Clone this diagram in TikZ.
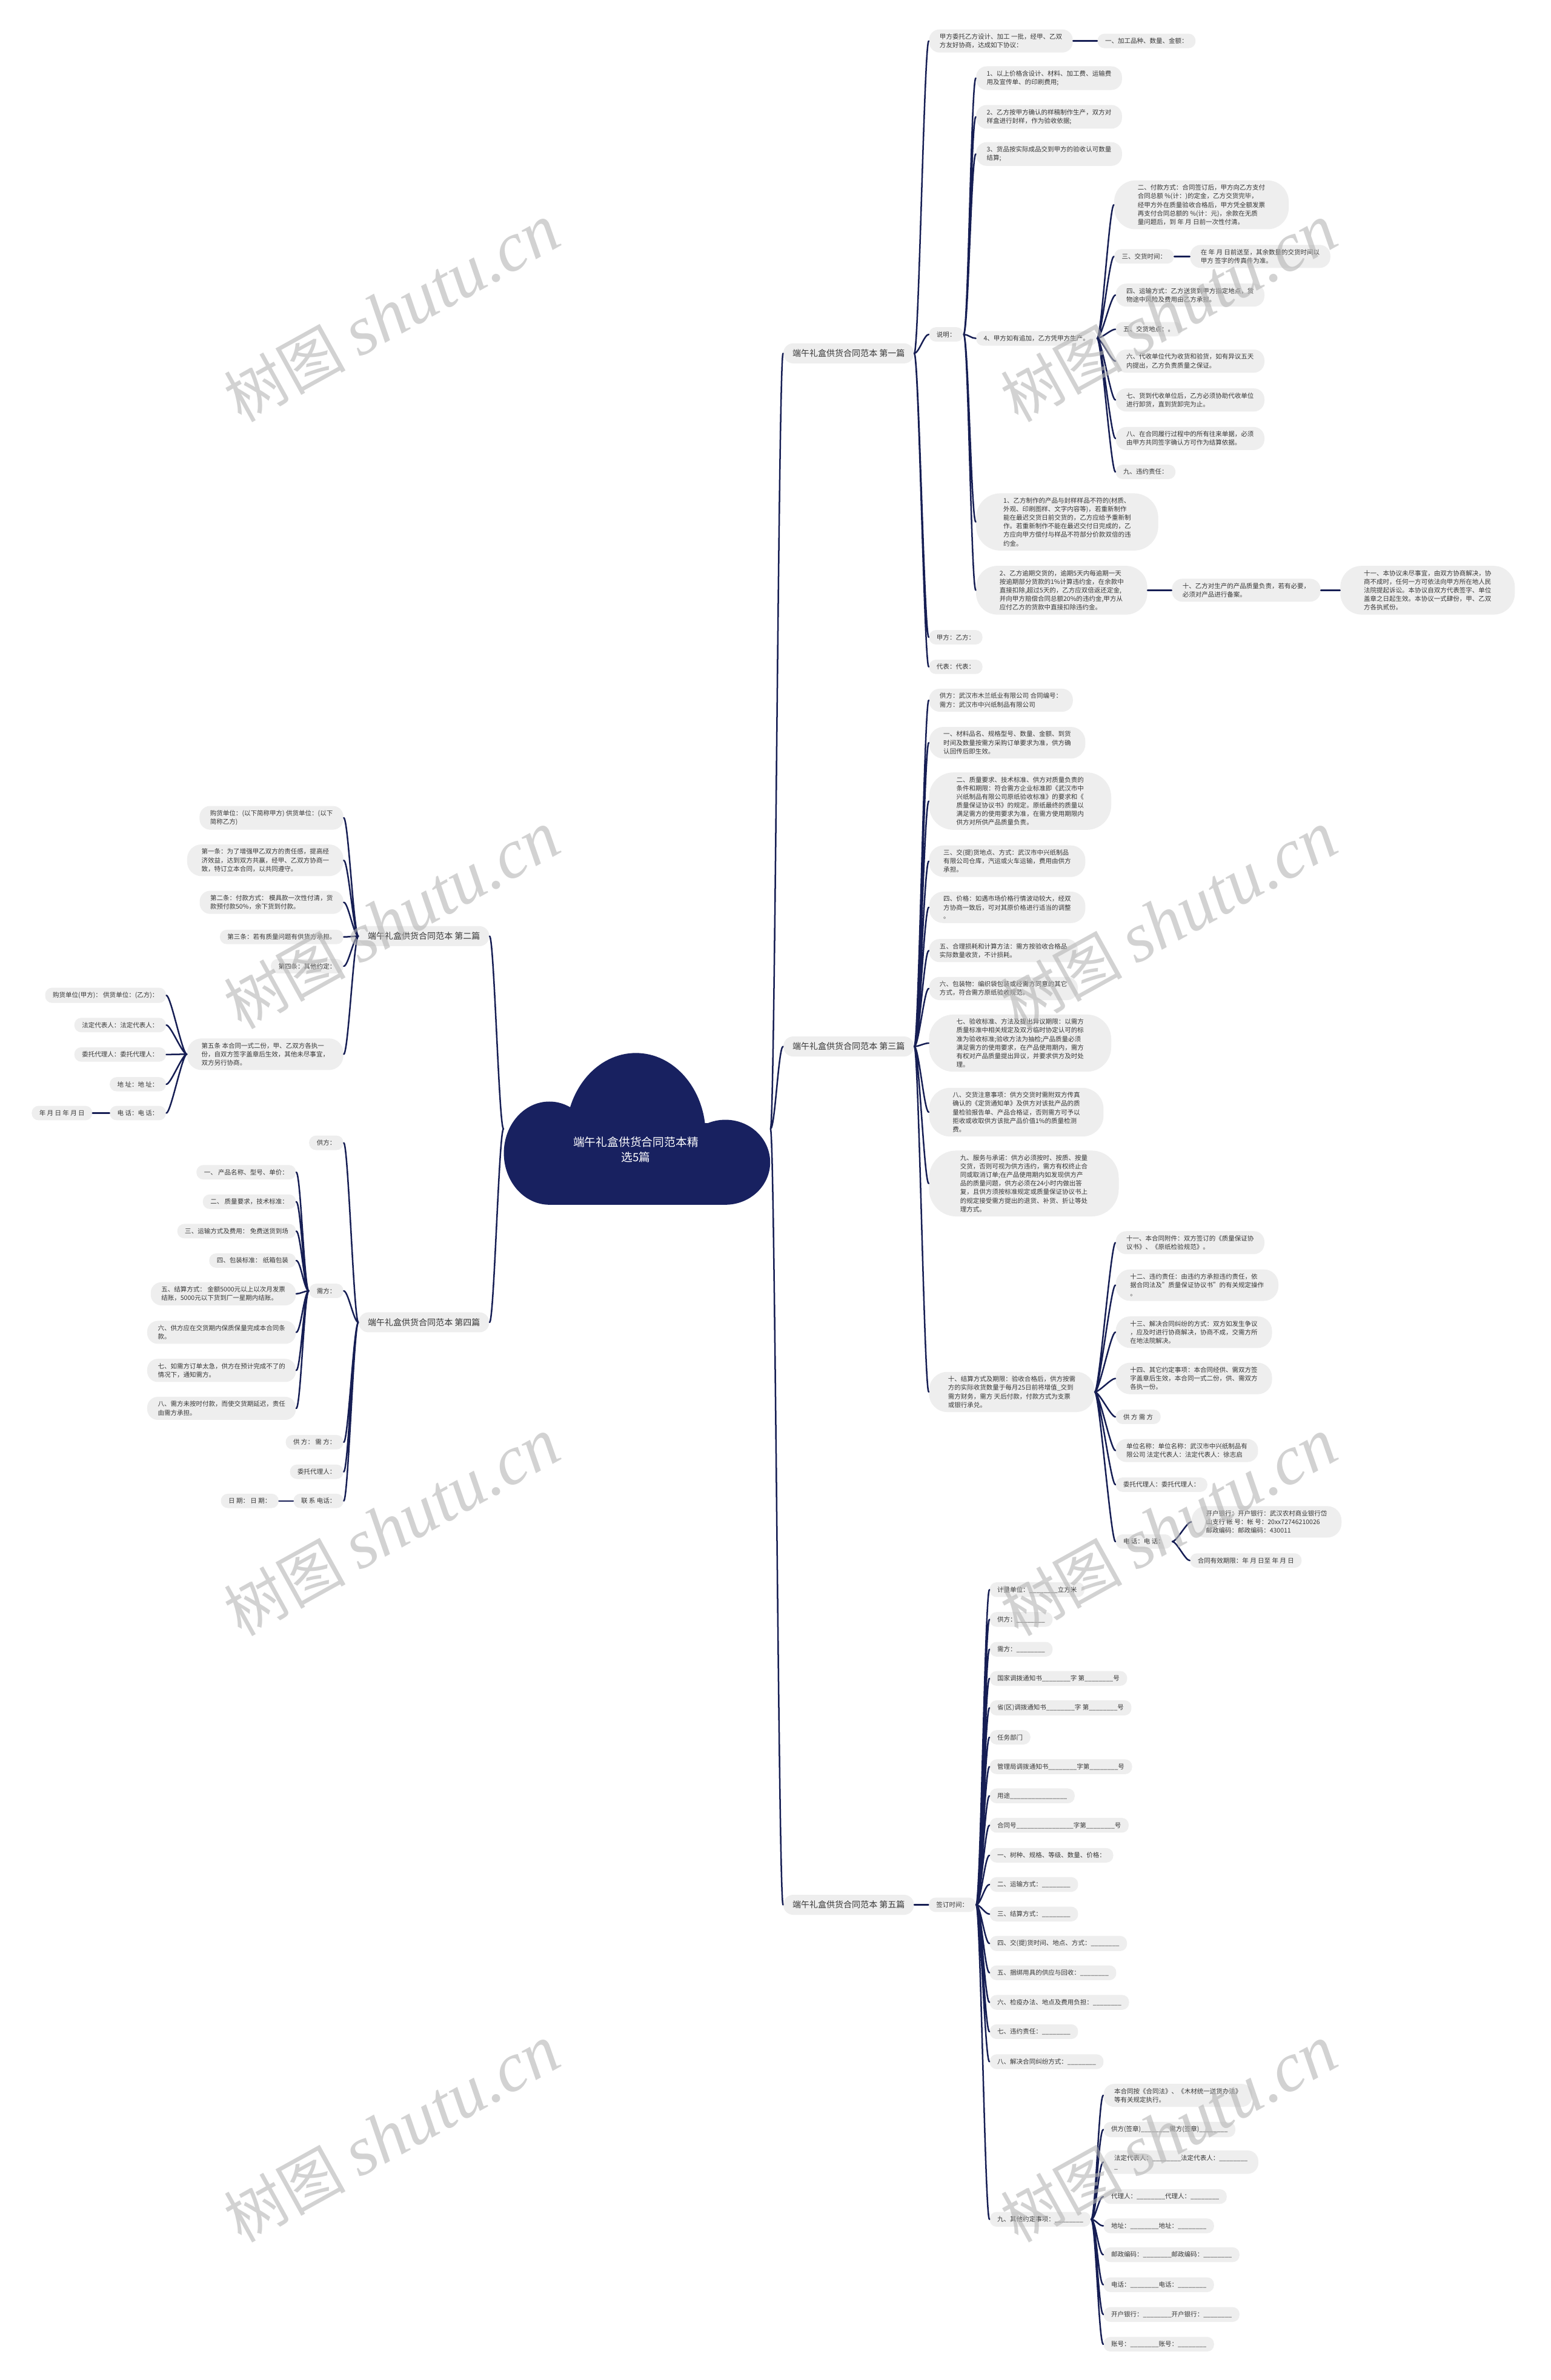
\documentclass[tikz,border=0pt]{standalone}
\usepackage{fontspec}
\setmainfont{Noto Sans CJK SC}
\newfontfamily\wmlatin{Liberation Serif}
\usepackage{tikz}
\definecolor{mapnavy}{RGB}{24,33,96}
\definecolor{linknavy}{RGB}{22,30,84}
\definecolor{boxgray}{RGB}{238,238,238}
\definecolor{textgray}{RGB}{55,55,55}
\definecolor{wmgray}{RGB}{180,180,180}
\newcommand\blnk{\_\_\_\_\_\_\_\_}
\tikzset{
  topic/.style={fill=boxgray,text=textgray,align=left,rounded corners=4.5pt,inner xsep=5pt,inner ysep=2.8pt,font=\fontsize{4.2}{5.65}\selectfont},
  branch/.style={topic,font=\fontsize{5.6}{7}\selectfont,inner xsep=6pt,inner ysep=4pt,rounded corners=6.5pt},
  ln2/.style={inner xsep=7pt,rounded corners=7pt},
  ln3/.style={inner xsep=9.5pt,rounded corners=9.5pt},
  ln4/.style={inner xsep=12.5pt,rounded corners=12pt},
  ln5/.style={inner xsep=15.5pt,rounded corners=14pt},
  ln6/.style={inner xsep=18pt,rounded corners=16pt},
  ln7/.style={inner xsep=20.5pt,rounded corners=18pt},
  rlink/.style={draw=linknavy,line width=1pt,line cap=round,out=0,in=180,out distance=3pt,in distance=3pt},
  llink/.style={draw=linknavy,line width=1pt,line cap=round,out=180,in=0,out distance=3pt,in distance=3pt},
  wmark/.style={text=wmgray,opacity=0.6,rotate=29,inner sep=0pt,font=\fontsize{40}{40}\selectfont}
}

\begin{document}
\begin{tikzpicture}[x=1pt,y=-1pt]
  \useasboundingbox (0,0) rectangle (1022,1568.6);
  \fill[white] (0,0) rectangle (1022,1568.6);

  \begin{scope}
    \clip (300,690) rectangle (520,794);
    \fill[mapnavy] (362,760) ellipse [x radius=30,y radius=34];
    \fill[mapnavy] (419,748) ellipse [x radius=46,y radius=54];
    \fill[mapnavy] (478,766) ellipse [x radius=29.5,y radius=28];
    \fill[mapnavy] (362,740) rectangle (478,794);
  \end{scope}
  \node[minimum width=175.5pt,minimum height=100pt,inner sep=0pt] (root) at (419.75,744) {};
  \node[text=white,align=center,font=\fontsize{7.5}{10}\selectfont] (title) at (419,757.5) {端午礼盒供货合同范本精\\选5篇};

  \node[branch,anchor=west] (p1) at (516,232.9) {端午礼盒供货合同范本 第一篇};
  \node[topic,ln2,anchor=west] (intro) at (612,27) {甲方委托乙方设计、加工 一批，经甲、乙双\\方友好协商，达成如下协议：};
  \node[topic,anchor=west] (kinds) at (723,27) {一、加工品种、数量、金额：};
  \node[topic,anchor=west] (note) at (612,220.4) {说明：};
  \node[topic,ln2,anchor=west] (price) at (643,51.5) {1、以上价格含设计、材料、加工费、运输费\\用及宣传单、的印刷费用;};
  \node[topic,ln2,anchor=west] (sample) at (643,77) {2、乙方按甲方确认的样稿制作生产，双方对\\样盒进行封样，作为验收依据;};
  \node[topic,ln2,anchor=west] (settle) at (643,101.5) {3、货品按实际成品交到甲方的验收认可数量\\结算;};
  \node[topic,anchor=west] (extra) at (643,223) {4、甲方如有追加，乙方凭甲方生产。};
  \node[topic,ln5,anchor=west] (pay) at (734,135) {二、付款方式：合同签订后，甲方向乙方支付\\合同总额 \%(计：)的定金，乙方交货完毕，\\经甲方外在质量验收合格后，甲方凭全额发票\\再支付合同总额的 \%(计：元)，余款在无质\\量问题后，到 年 月 日前一次性付清。};
  \node[topic,anchor=west] (dtime) at (734,169) {三、交货时间：};
  \node[topic,ln2,anchor=west] (dtimeq) at (784,169) {在 年 月 日前送至，其余数量的交货时间以\\甲方 签字的传真件为准。};
  \node[topic,ln2,anchor=west] (trans) at (735,194.5) {四、运输方式：乙方送货到甲方指定地点，货\\物途中风险及费用由乙方承担。};
  \node[topic,anchor=west] (dplace) at (735,217) {五、交货地点：。};
  \node[topic,ln2,anchor=west] (agent) at (735,238) {六、代收单位代为收货和验货，如有异议五天\\内提出，乙方负责质量之保证。};
  \node[topic,ln2,anchor=west] (unload) at (735,263.6) {七、货到代收单位后，乙方必须协助代收单位\\进行卸货，直到货卸完为止。};
  \node[topic,ln2,anchor=west] (bills) at (735,289) {八、在合同履行过程中的所有往来单据，必须\\由甲方共同签字确认方可作为结算依据。};
  \node[topic,anchor=west] (breach) at (735,311) {九、违约责任：};
  \node[topic,ln6,anchor=west] (mism) at (643,344) {1、乙方制作的产品与封样样品不符的(材质、\\外观、印刷图样、文字内容等)，若重新制作\\能在最迟交货日前交货的，乙方应给予重新制\\作。若重新制作不能在最迟交付日完成的，乙\\方应向甲方偿付与样品不符部分价款双倍的违\\约金。};
  \node[topic,ln5,anchor=west] (late) at (643,389) {2、乙方逾期交货的，逾期5天内每逾期一天\\按逾期部分货款的1\%计算违约金，在余款中\\直接扣除,超过5天的，乙方应双倍返还定金,\\并向甲方赔偿合同总额20\%的违约金,甲方从\\应付乙方的货款中直接扣除违约金。};
  \node[topic,ln2,anchor=west] (qual) at (772,389) {十、乙方对生产的产品质量负责，若有必要，\\必须对产品进行备案。};
  \node[topic,ln5,anchor=west] (misc) at (883,389) {十一、本协议未尽事宜，由双方协商解决，协\\商不成时，任何一方可依法向甲方所在地人民\\法院提起诉讼。本协议自双方代表签字、单位\\盖章之日起生效。本协议一式肆份，甲、乙双\\方各执贰份。};
  \node[topic,anchor=west] (sigA) at (612,420) {甲方：乙方：};
  \node[topic,anchor=west] (reps) at (612,439.5) {代表：代表：};

  \node[branch,anchor=west] (p3) at (516,689.7) {端午礼盒供货合同范本 第三篇};
  \node[topic,ln2,anchor=west] (parties3) at (612,461.5) {供方：武汉市木兰纸业有限公司 合同编号：\\需方：武汉市中兴纸制品有限公司};
  \node[topic,ln3,anchor=west] (mat3) at (612,489.5) {一、材料品名、规格型号、数量、金额、到货\\时间及数量按需方采购订单要求为准，供方确\\认回传后即生效。};
  \node[topic,ln6,anchor=west] (std3) at (612,528) {二、质量要求、技术标准、供方对质量负责的\\条件和期限：符合需方企业标准即《武汉市中\\兴纸制品有限公司原纸验收标准》的要求和《\\质量保证协议书》的规定。原纸最终的质量以\\满足需方的使用要求为准，在需方使用期限内\\供方对所供产品质量负责。};
  \node[topic,ln3,anchor=west] (place3) at (612,567.6) {三、交(提)货地点、方式：武汉市中兴纸制品\\有限公司仓库，汽运或火车运输，费用由供方\\承担。};
  \node[topic,ln3,anchor=west] (price3) at (612,598) {四、价格：如遇市场价格行情波动较大，经双\\方协商一致后，可对其原价格进行适当的调整\\。};
  \node[topic,ln2,anchor=west] (loss3) at (612,626.5) {五、合理损耗和计算方法：需方按验收合格品\\实际数量收货，不计损耗。};
  \node[topic,ln2,anchor=west] (pack3) at (612,651.5) {六、包装物：编织袋包装或经需方同意的其它\\方式，符合需方原纸验收规范。};
  \node[topic,ln6,anchor=west] (check3) at (612,687.5) {七、验收标准、方法及提出异议期限：以需方\\质量标准中相关规定及双方临时协定认可的标\\准为验收标准;验收方法为抽检;产品质量必须\\满足需方的使用要求，在产品使用期内，需方\\有权对产品质量提出异议，并要求供方及时处\\理。};
  \node[topic,ln5,anchor=west] (care3) at (612,733) {八、交货注意事项：供方交货时需附双方传真\\确认的《定货通知单》及供方对该批产品的质\\量检验报告单、产品合格证，否则需方可予以\\拒收或收取供方该批产品价值1\%的质量检测\\费。};
  \node[topic,ln7,anchor=west] (serv3) at (612,780) {九、服务与承诺：供方必须按时、按质、按量\\交货，否则可视为供方违约，需方有权终止合\\同或取消订单;在产品使用期内如发现供方产\\品的质量问题，供方必须在24小时内做出答\\复，且供方须按标准规定或质量保证协议书上\\的规定接受需方提出的退货、补货、折让等处\\理方式。};
  \node[topic,ln4,anchor=west] (bal3) at (612,917.4) {十、结算方式及期限：验收合格后，供方按需\\方的实际收货数量于每月25日前将增值\_交到\\需方财务，需方 天后付款，付款方式为支票\\或银行承兑。};
  \node[topic,ln2,anchor=west] (att3) at (735,819) {十一、本合同附件：双方签订的《质量保证协\\议书》、《原纸检验规范》。};
  \node[topic,ln3,anchor=west] (viol3) at (735,847) {十二、违约责任：由违约方承担违约责任，依\\据合同法及"质量保证协议书"的有关规定操作\\。};
  \node[topic,ln3,anchor=west] (disp3) at (735,878) {十三、解决合同纠纷的方式：双方如发生争议\\，应及时进行协商解决，协商不成，交需方所\\在地法院解决。};
  \node[topic,ln3,anchor=west] (other3) at (735,908.5) {十四、其它约定事项：本合同经供、需双方签\\字盖章后生效，本合同一式二份，供、需双方\\各执一份。};
  \node[topic,anchor=west] (sign3) at (735,933.8) {供 方 需 方};
  \node[topic,ln2,anchor=west] (unit3) at (735,956) {单位名称：单位名称：武汉市中兴纸制品有\\限公司 法定代表人：法定代表人：徐志启};
  \node[topic,anchor=west] (proxy3) at (735,978.5) {委托代理人：委托代理人：};
  \node[topic,anchor=west] (tel3) at (735,1016) {电 话：电 话：};
  \node[topic,ln3,anchor=west] (bank3) at (785,1003) {开户银行：开户银行：武汉农村商业银行岱\\山支行 帐 号：帐 号：20xx72746210026\\邮政编码：邮政编码：430011};
  \node[topic,anchor=west] (valid3) at (784,1028.5) {合同有效期限：年 月 日至 年 月 日};

  \node[branch,anchor=west] (p5) at (516,1255.4) {端午礼盒供货合同范本 第五篇};
  \node[topic,anchor=west] (signt) at (611.8,1255.4) {签订时间：};
  \node[topic,anchor=west] (w1) at (652,1047.7) {计量单位：\blnk 立方米};
  \node[topic,anchor=west] (w2) at (652,1067.3) {供方：\blnk};
  \node[topic,anchor=west] (w3) at (652,1087) {需方：\blnk};
  \node[topic,anchor=west] (w4) at (652,1106.2) {国家调拨通知书\blnk 字 第\blnk 号};
  \node[topic,anchor=west] (w5) at (652,1125.6) {省(区)调拨通知书\blnk 字 第\blnk 号};
  \node[topic,anchor=west] (w6) at (652,1145) {任务部门};
  \node[topic,anchor=west] (w7) at (652,1164.4) {管理局调拨通知书\blnk 字第\blnk 号};
  \node[topic,anchor=west] (w8) at (652,1183.6) {用途\blnk\blnk};
  \node[topic,anchor=west] (w9) at (652,1203) {合同号\blnk\blnk 字第\blnk 号};
  \node[topic,anchor=west] (w10) at (652,1222.8) {一、树种、规格、等级、数量、价格：};
  \node[topic,anchor=west] (w11) at (652,1242) {二、运输方式：\blnk};
  \node[topic,anchor=west] (w12) at (652,1261.5) {三、结算方式：\blnk};
  \node[topic,anchor=west] (w13) at (652,1280.9) {四、交(提)货时间、地点、方式：\blnk};
  \node[topic,anchor=west] (w14) at (652,1300.2) {五、捆绑用具的供应与回收：\blnk};
  \node[topic,anchor=west] (w15) at (652,1319.7) {六、检疫办法、地点及费用负担：\blnk};
  \node[topic,anchor=west] (w16) at (652,1339) {七、违约责任：\blnk};
  \node[topic,anchor=west] (w17) at (652,1358.8) {八、解决合同纠纷方式：\blnk};
  \node[topic,anchor=west] (w18) at (652,1462.7) {九、其他约定事项：\blnk};
  \node[topic,ln2,anchor=west] (o1) at (727,1381) {本合同按《合同法》、《木材统一送货办法》\\等有关规定执行。};
  \node[topic,anchor=west] (o2) at (727,1403.5) {供方(签章)\blnk 需方(签章)\blnk};
  \node[topic,ln2,anchor=west] (o3) at (727,1425) {法定代表人：\blnk 法定代表人：\blnk\\\_};
  \node[topic,anchor=west] (o4) at (727,1447.7) {代理人：\blnk 代理人：\blnk};
  \node[topic,anchor=west] (o5) at (727,1467) {地址：\blnk 地址：\blnk};
  \node[topic,anchor=west] (o6) at (727,1486) {邮政编码：\blnk 邮政编码：\blnk};
  \node[topic,anchor=west] (o7) at (727,1505.8) {电话：\blnk 电话：\blnk};
  \node[topic,anchor=west] (o8) at (727,1525.4) {开户银行：\blnk 开户银行：\blnk};
  \node[topic,anchor=west] (o9) at (727,1545) {账号：\blnk 账号：\blnk};

  \node[branch,anchor=east] (p2) at (322.6,617) {端午礼盒供货合同范本 第二篇};
  \node[topic,ln2,anchor=east] (k1) at (226.5,539) {购货单位：(以下简称甲方) 供货单位：(以下\\简称乙方)};
  \node[topic,ln3,anchor=east] (k2) at (226.5,567) {第一条：为了增强甲乙双方的责任感，提高经\\济效益，达到双方共赢，经甲、乙双方协商一\\致，特订立本合同，以共同遵守。};
  \node[topic,ln2,anchor=east] (k3) at (226.5,594.7) {第二条：付款方式： 模具款一次性付清，货\\款预付款50\%，余下货到付款。};
  \node[topic,anchor=east] (k4) at (226.5,617.5) {第三条：若有质量问题有供货方承担。};
  \node[topic,anchor=east] (k5) at (226.5,636.8) {第四条：其他约定：};
  \node[topic,ln3,anchor=east] (k6) at (226.5,694.8) {第五条 本合同一式二份，甲、乙双方各执一\\份，自双方签字盖章后生效，其他未尽事宜，\\双方另行协商。};
  \node[topic,anchor=east] (t1) at (109.6,656) {购货单位(甲方)： 供货单位：(乙方)：};
  \node[topic,anchor=east] (t2) at (109.6,675.6) {法定代表人：法定代表人：};
  \node[topic,anchor=east] (t3) at (109.6,695) {委托代理人：委托代理人：};
  \node[topic,anchor=east] (t4) at (109.6,714.6) {地 址：地 址：};
  \node[topic,anchor=east] (t5) at (109.6,733.6) {电 话：电 话：};
  \node[topic,anchor=east] (tdate) at (61,733.6) {年 月 日 年 月 日};

  \node[branch,anchor=east] (p4) at (322.6,871.5) {端午礼盒供货合同范本 第四篇};
  \node[topic,anchor=east] (sup4) at (226.5,753.2) {供方：};
  \node[topic,anchor=east] (dem4) at (226.5,850.8) {需方：};
  \node[topic,anchor=east] (r1) at (195.2,772.6) {一、 产品名称、型号、单价：};
  \node[topic,anchor=east] (r2) at (195.2,792) {二、 质量要求，技术标准：};
  \node[topic,anchor=east] (r3) at (195.2,811.4) {三、运输方式及费用： 免费送货到场};
  \node[topic,anchor=east] (r4) at (195.2,830.8) {四、包装标准： 纸箱包装};
  \node[topic,ln2,anchor=east] (r5) at (195.2,852.7) {五、结算方式： 金额5000元以上以次月发票\\结账，5000元以下货到厂一星期内结账。};
  \node[topic,ln2,anchor=east] (r6) at (195.2,878.1) {六、供方应在交货期内保质保量完成本合同条\\款。};
  \node[topic,ln2,anchor=east] (r7) at (195.2,903.2) {七、如需方订单太急，供方在预计完成不了的\\情况下，通知需方。};
  \node[topic,ln2,anchor=east] (r8) at (195.2,928.2) {八、需方未按时付款，而使交货期延迟，责任\\由需方承担。};
  \node[topic,anchor=east] (both4) at (226.5,950.5) {供 方： 需 方：};
  \node[topic,anchor=east] (proxy4) at (226.5,970) {委托代理人：};
  \node[topic,anchor=east] (tel4) at (226.5,989.2) {联 系 电话：};
  \node[topic,anchor=east] (date4) at (183.8,989.2) {日 期： 日 期：};

  \draw[rlink] (root.east) to (p1.west) (root.east) to (p3.west) (root.east) to (p5.west);
  \draw[llink] (root.west) to (p2.east) (root.west) to (p4.east);

  \draw[rlink] (p1.east) to (intro.west) (p1.east) to (note.west) (p1.east) to (sigA.west) (p1.east) to (reps.west);
  \draw[rlink] (intro.east) to (kinds.west);
  \draw[rlink] (note.east) to (price.west) (note.east) to (sample.west) (note.east) to (settle.west) (note.east) to (extra.west) (note.east) to (mism.west) (note.east) to (late.west);
  \draw[rlink] (extra.east) to (pay.west) (extra.east) to (dtime.west) (extra.east) to (trans.west) (extra.east) to (dplace.west) (extra.east) to (agent.west) (extra.east) to (unload.west) (extra.east) to (bills.west) (extra.east) to (breach.west);
  \draw[rlink] (dtime.east) to (dtimeq.west);
  \draw[rlink] (late.east) to (qual.west);
  \draw[rlink] (qual.east) to (misc.west);

  \draw[rlink] (p3.east) to (parties3.west) (p3.east) to (mat3.west) (p3.east) to (std3.west) (p3.east) to (place3.west) (p3.east) to (price3.west) (p3.east) to (loss3.west) (p3.east) to (pack3.west) (p3.east) to (check3.west) (p3.east) to (care3.west) (p3.east) to (serv3.west) (p3.east) to (bal3.west);
  \draw[rlink] (bal3.east) to (att3.west) (bal3.east) to (viol3.west) (bal3.east) to (disp3.west) (bal3.east) to (other3.west) (bal3.east) to (sign3.west) (bal3.east) to (unit3.west) (bal3.east) to (proxy3.west) (bal3.east) to (tel3.west);
  \draw[rlink] (tel3.east) to (bank3.west) (tel3.east) to (valid3.west);

  \draw[rlink] (p5.east) to (signt.west);
  \draw[rlink] (signt.east) to (w1.west) (signt.east) to (w2.west) (signt.east) to (w3.west) (signt.east) to (w4.west) (signt.east) to (w5.west) (signt.east) to (w6.west) (signt.east) to (w7.west) (signt.east) to (w8.west) (signt.east) to (w9.west);
  \draw[rlink] (signt.east) to (w10.west) (signt.east) to (w11.west) (signt.east) to (w12.west) (signt.east) to (w13.west) (signt.east) to (w14.west) (signt.east) to (w15.west) (signt.east) to (w16.west) (signt.east) to (w17.west) (signt.east) to (w18.west);
  \draw[rlink] (w18.east) to (o1.west) (w18.east) to (o2.west) (w18.east) to (o3.west) (w18.east) to (o4.west) (w18.east) to (o5.west) (w18.east) to (o6.west) (w18.east) to (o7.west) (w18.east) to (o8.west) (w18.east) to (o9.west);

  \draw[llink] (p2.west) to (k1.east) (p2.west) to (k2.east) (p2.west) to (k3.east) (p2.west) to (k4.east) (p2.west) to (k5.east) (p2.west) to (k6.east);
  \draw[llink] (k6.west) to (t1.east) (k6.west) to (t2.east) (k6.west) to (t3.east) (k6.west) to (t4.east) (k6.west) to (t5.east);
  \draw[llink] (t5.west) to (tdate.east);

  \draw[llink] (p4.west) to (sup4.east) (p4.west) to (dem4.east) (p4.west) to (both4.east) (p4.west) to (proxy4.east) (p4.west) to (tel4.east);
  \draw[llink] (dem4.west) to (r1.east) (dem4.west) to (r2.east) (dem4.west) to (r3.east) (dem4.west) to (r4.east) (dem4.west) to (r5.east) (dem4.west) to (r6.east) (dem4.west) to (r7.east) (dem4.west) to (r8.east);
  \draw[llink] (tel4.west) to (date4.east);

  \node[wmark] (wm1) at (258.2,206.4) {树图 {\wmlatin\itshape\fontsize{46}{46}\selectfont shutu.cn}};
  \node[wmark] (wm2) at (770.2,206.4) {树图 {\wmlatin\itshape\fontsize{46}{46}\selectfont shutu.cn}};
  \node[wmark] (wm3) at (258.2,606.4) {树图 {\wmlatin\itshape\fontsize{46}{46}\selectfont shutu.cn}};
  \node[wmark] (wm4) at (770.2,606.4) {树图 {\wmlatin\itshape\fontsize{46}{46}\selectfont shutu.cn}};
  \node[wmark] (wm5) at (258.2,1006.4) {树图 {\wmlatin\itshape\fontsize{46}{46}\selectfont shutu.cn}};
  \node[wmark] (wm6) at (770.2,1006.4) {树图 {\wmlatin\itshape\fontsize{46}{46}\selectfont shutu.cn}};
  \node[wmark] (wm7) at (258.2,1406.4) {树图 {\wmlatin\itshape\fontsize{46}{46}\selectfont shutu.cn}};
  \node[wmark] (wm8) at (770.2,1406.4) {树图 {\wmlatin\itshape\fontsize{46}{46}\selectfont shutu.cn}};
\end{tikzpicture}
\end{document}
